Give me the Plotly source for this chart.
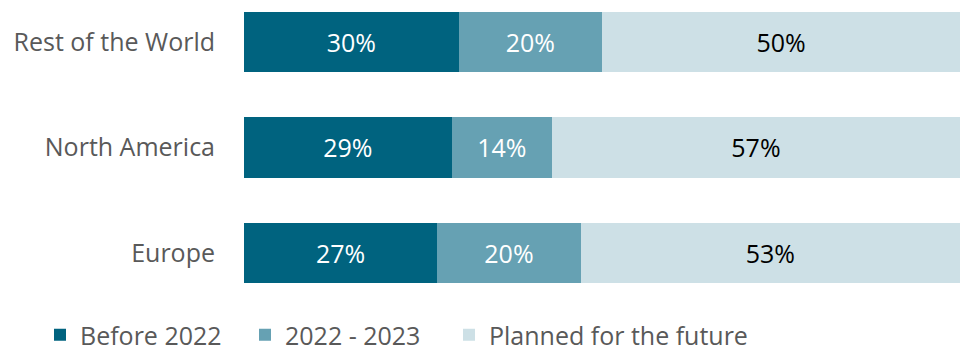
import plotly.graph_objects as go

# Share of respondents by region and adoption timing (percent)
regions = ["Europe", "North America", "Rest of the World"]
before_2022 = [27, 29, 30]
y2022_2023 = [20, 14, 20]
planned = [53, 57, 50]

series = [
    ("Before 2022", before_2022, "#00637f", "white", "legend"),
    ("2022 - 2023", y2022_2023, "#66a1b3", "white", "legend2"),
    ("Planned for the future", planned, "#cde0e6", "black", "legend3"),
]

FONT = "Open Sans, Noto Sans, sans-serif"
SIZE = 25

fig = go.Figure()
for name, vals, color, txtcolor, leg in series:
    fig.add_trace(go.Bar(
        y=regions,
        x=vals,
        name=name,
        legend=leg,
        orientation="h",
        marker=dict(color=color, line=dict(width=0)),
        width=0.57,
        text=[f"{v}%" for v in vals],
        textposition="inside",
        insidetextanchor="middle",
        textangle=0,
        textfont=dict(color=txtcolor, size=SIZE, family=FONT),
        hoverinfo="skip",
    ))


def legend_at(x):
    return dict(
        orientation="h",
        xref="container",
        yref="container",
        x=x,
        xanchor="left",
        y=0,
        yanchor="bottom",
        bgcolor="rgba(0,0,0,0)",
        font=dict(size=SIZE, color="#595959", family=FONT),
    )


fig.update_layout(
    barmode="stack",
    width=960,
    height=358,
    margin=dict(l=244, r=0, t=0, b=58),
    paper_bgcolor="white",
    plot_bgcolor="white",
    font=dict(family=FONT, size=SIZE, color="#595959"),
    xaxis=dict(range=[0, 100], visible=False, fixedrange=True),
    yaxis=dict(
        range=[-0.4455, 2.398],
        showgrid=False,
        zeroline=False,
        showline=False,
        ticks="",
        ticklabelstandoff=28,
        tickfont=dict(size=SIZE, color="#595959", family=FONT),
    ),
    showlegend=True,
    legend=legend_at(40 / 960),
    legend2=legend_at(245 / 960),
    legend3=legend_at(449 / 960),
    uniformtext=dict(mode=None),
)

fig.write_html("out.html")
